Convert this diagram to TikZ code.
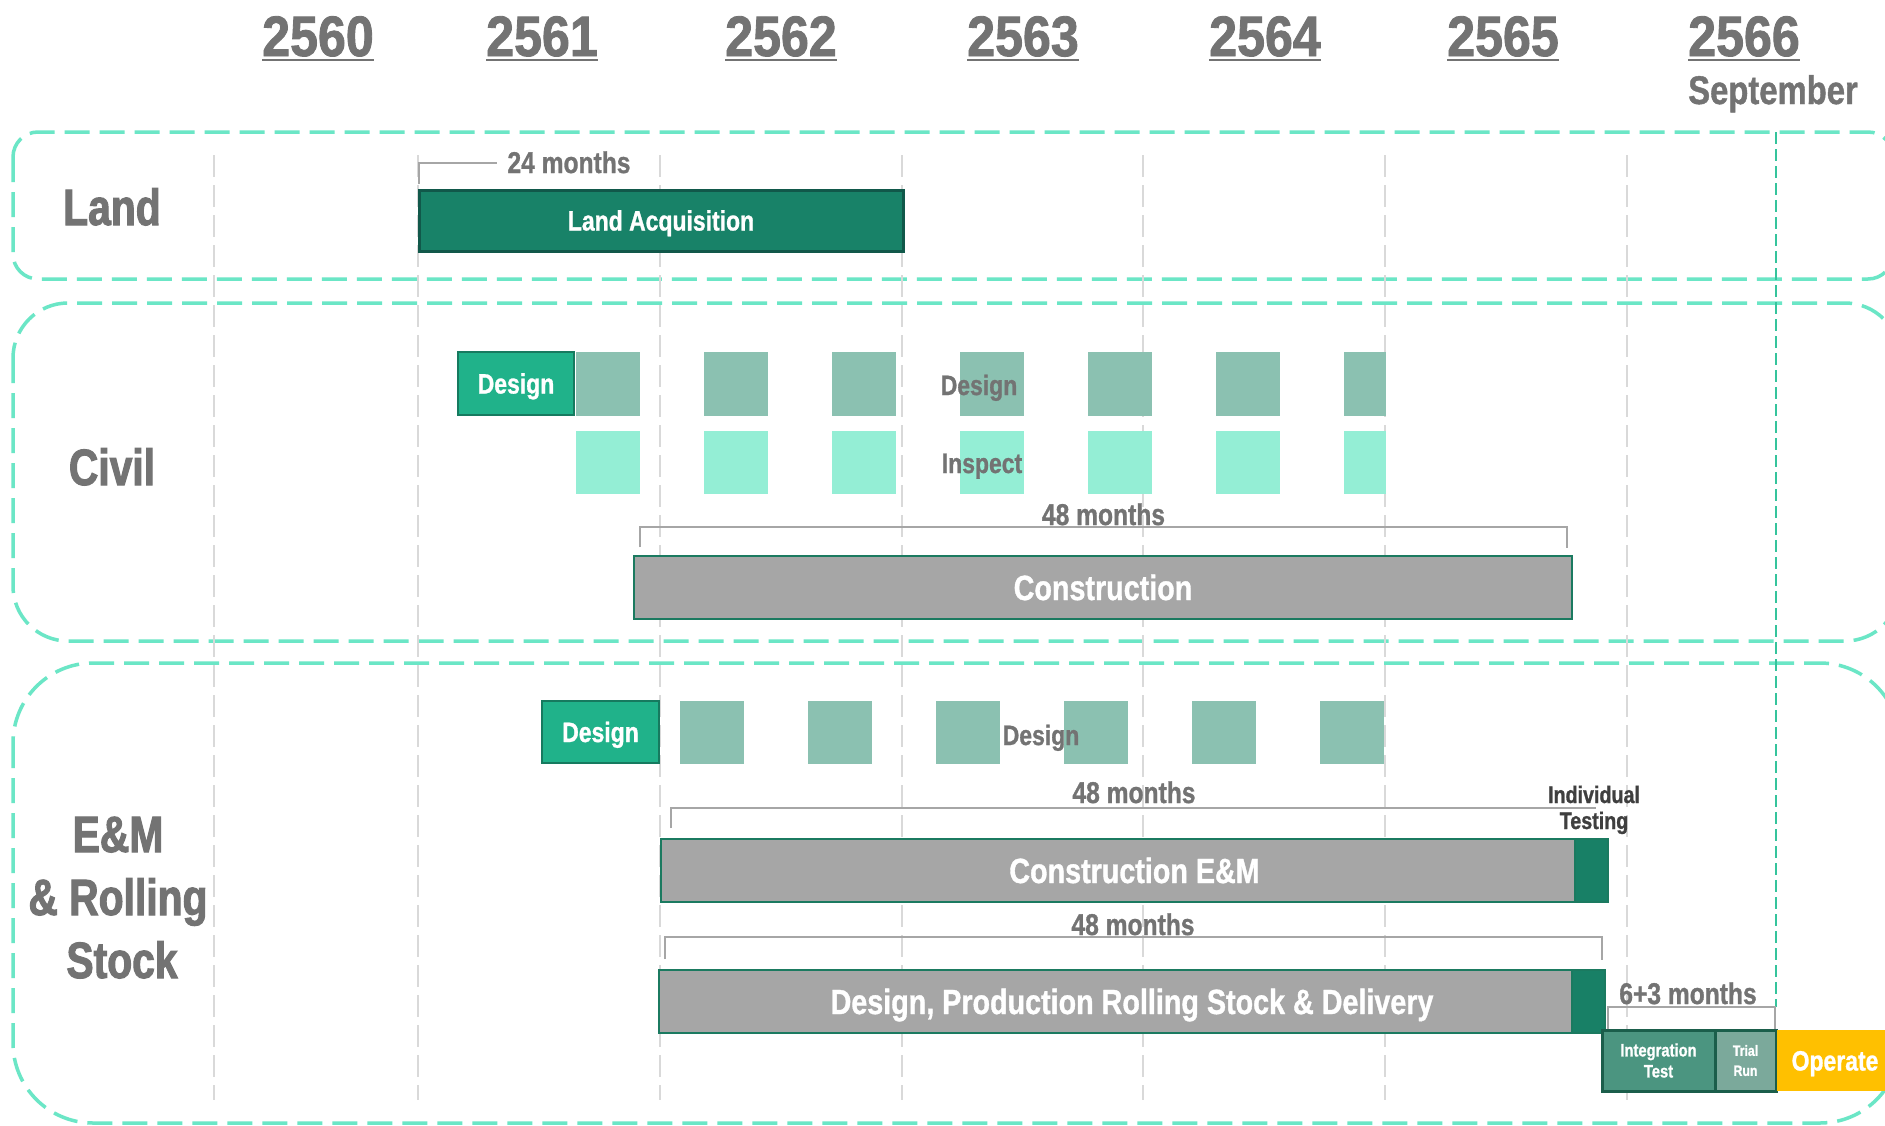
\documentclass[tikz,border=0pt]{standalone}
\usepackage{fontspec}
\newfontfamily\cf{Liberation Sans}[FakeStretch=0.82, FakeBold=1]
\newfontfamily\hf{Liberation Sans}[FakeStretch=0.8, FakeBold=2]
\newfontfamily\yf{Liberation Sans}[FakeStretch=0.88, FakeBold=1.5]
\newcommand\fsz[2]{\fontsize{#1}{#2}\selectfont}
\definecolor{textgray}{HTML}{737373}
\definecolor{darktext}{HTML}{3F3F3F}
\definecolor{mint}{HTML}{6BE6C6}
\definecolor{mintline}{HTML}{35C49C}
\definecolor{gridgray}{HTML}{D9D9D9}
\definecolor{landfill}{HTML}{188268}
\definecolor{landborder}{HTML}{11584A}
\definecolor{designfill}{HTML}{20B28A}
\definecolor{designborder}{HTML}{167A5F}
\definecolor{sqdesign}{HTML}{8BC1B1}
\definecolor{sqinspect}{HTML}{94EED5}
\definecolor{barfill}{HTML}{A6A6A6}
\definecolor{barborder}{HTML}{1B7A60}
\definecolor{darkblock}{HTML}{188066}
\definecolor{intfill}{HTML}{4B9580}
\definecolor{trialfill}{HTML}{7BA99B}
\definecolor{intborder}{HTML}{1B5E4B}
\definecolor{operatefill}{HTML}{FFC000}
\definecolor{brackgray}{HTML}{A6A6A6}
\begin{document}
\begin{tikzpicture}[x=1pt,y=-1pt,
  every node/.style={inner sep=0pt, outer sep=0pt},
  lbl/.style={anchor=base, text=textgray, font=\cf\bfseries\fsz{#1}{#1}},
  rowlbl/.style={anchor=base, text=textgray, font=\hf\bfseries\fsz{51}{51}},
  yearlbl/.style={anchor=base, text=textgray, font=\yf\bfseries\fsz{57}{57}},
  ul/.style={draw=textgray, line width=2.5pt},
  gridline/.style={draw=gridgray, line width=2.5pt, dash pattern=on 22pt off 8pt},
  phase/.style={draw=mint, line width=3.5pt, dash pattern=on 25pt off 10pt},
  brk/.style={draw=brackgray, line width=2pt},
  landbar/.style={draw=landborder, fill=landfill, line width=3pt, text=white, font=\cf\bfseries\fsz{28}{28}, text height=20pt, text depth=0pt},
  designbox/.style={draw=designborder, fill=designfill, line width=2.5pt, text=white, font=\cf\bfseries\fsz{28}{28}, text height=20pt, text depth=0pt},
  sqd/.style={fill=sqdesign},
  sqi/.style={fill=sqinspect},
  graybar/.style={draw=barborder, fill=barfill, line width=2.5pt, text=white, font=\cf\bfseries\fsz{35}{35}, text height=25pt, text depth=0pt},
  blockbar/.style={draw=barborder, fill=darkblock, line width=2.5pt},
  intbox/.style={draw=intborder, fill=intfill, line width=3pt, text=white, align=center, font=\cf\bfseries\fsz{18}{21}},
  trialbox/.style={draw=intborder, fill=trialfill, line width=3pt, text=white, align=center, font=\cf\bfseries\fsz{15}{20}},
  opbox/.style={fill=operatefill, text=white, font=\cf\bfseries\fsz{28}{28}, text height=20pt, text depth=0pt}
]
\useasboundingbox (0,0) rectangle (1885,1125);
\clip (0,0) rectangle (1885,1125);
\fill[white] (0,0) rectangle (1885,1125);

% phase boxes
\draw[phase, rounded corners=25pt] (13,132) rectangle (1893,279);
\draw[phase, rounded corners=55pt] (13,303) rectangle (1900,641);
\draw[phase, rounded corners=80pt] (13,663) rectangle (1900,1123);

% grid lines
\foreach \gx in {214,418,660,902,1143,1385,1627}
  \draw[gridline] (\gx,155) -- (\gx,1100);

% September marker line
\draw[draw=mintline, line width=1.5pt, dash pattern=on 12pt off 5pt] (1776,132) -- (1776,1007);

% years
\foreach \yr/\yx in {2560/318,2561/542,2562/781,2563/1023,2564/1265,2565/1503,2566/1744}{
  \node[yearlbl] (y\yr) at (\yx,56) {\yr};
  \draw[ul] ([yshift=-4pt]y\yr.base west) -- ([yshift=-4pt]y\yr.base east);
}
\node[lbl=40] (sept) at (1773,104) {September};

% row labels
\node[rowlbl] (land) at (112,225) {Land};
\node[rowlbl] (civil) at (112,485) {Civil};
\node[rowlbl] (em1) at (118,852) {E\&M};
\node[rowlbl] (em2) at (118,915) {\& Rolling};
\node[rowlbl] (em3) at (122,978) {Stock};

% Land
\node[landbar, minimum width=484pt, minimum height=61pt] (landacq) at (661,220.5) {Land Acquisition};
\coordinate (lb1) at (419,184);
\coordinate (lb2) at (497,163);
\draw[brk] (lb1) |- (lb2);
\node[lbl=30] (m24) at (569,173) {24 months};

% Civil design / inspect
\foreach \k in {0,...,5}{
  \node[sqd, minimum width=64pt, minimum height=64pt] (cd\k) at (608+128*\k,384) {};
  \node[sqi, minimum width=64pt, minimum height=63pt] (ci\k) at (608+128*\k,462.5) {};
}
\node[sqd, minimum width=42pt, minimum height=64pt] (cd6) at (1365,384) {};
\node[sqi, minimum width=42pt, minimum height=63pt] (ci6) at (1365,462.5) {};
\node[designbox, minimum width=116pt, minimum height=63pt] (cdes) at (516,383.5) {Design};
\node[lbl=28] (cdlbl) at (979,395) {Design};
\node[lbl=28] (cilbl) at (982,473) {Inspect};

% Civil construction
\coordinate (cb1) at (640,547);
\coordinate (cb2) at (1567,548);
\draw[brk] (cb1) -- (640,527) -- (1567,527) -- (cb2);
\node[lbl=30] (m48a) at (1103.5,525) {48 months};
\node[graybar, minimum width=938pt, minimum height=63pt] (constr) at (1103,587.5) {Construction};

% E&M design
\foreach \k in {0,...,5}{
  \node[sqd, minimum width=64pt, minimum height=63pt] (ed\k) at (712+128*\k,732.5) {};
}
\node[designbox, minimum width=117pt, minimum height=62pt] (edes) at (600.5,732) {Design};
\node[lbl=28] (edlbl) at (1041,745) {Design};

% Construction E&M
\coordinate (eb1) at (671,828);
\coordinate (eb2) at (1596,808);
\draw[brk] (eb1) |- (eb2);
\node[lbl=30] (m48b) at (1134,803) {48 months};
\node[lbl=24, text=darktext] (indiv1) at (1594,803) {Individual};
\node[lbl=24, text=darktext] (indiv2) at (1594,829) {Testing};
\node[graybar, minimum width=947pt, minimum height=63pt] (constrem) at (1134.5,870.5) {Construction E\&M};
\node[blockbar, minimum width=33pt, minimum height=63pt] (indivblk) at (1591.5,870.5) {};

% Rolling stock
\coordinate (rb1) at (665,959);
\coordinate (rb2) at (1602,960);
\draw[brk] (rb1) -- (665,937) -- (1602,937) -- (rb2);
\node[lbl=30] (m48c) at (1133,935) {48 months};
\node[graybar, minimum width=946pt, minimum height=63pt] (rolling) at (1132,1001.5) {Design, Production Rolling Stock \& Delivery};
\node[blockbar, minimum width=33pt, minimum height=63pt] (rollblk) at (1588.5,1001.5) {};

% Testing and operate
\node[intbox, minimum width=113pt, minimum height=61pt] (integ) at (1658.5,1060.5) {Integration\\Test};
\node[trialbox, minimum width=61pt, minimum height=61pt] (trial) at (1745.5,1060.5) {Trial\\Run};
\node[opbox, minimum width=116pt, minimum height=61pt] (operate) at (1835,1060.5) {Operate};
\coordinate (tb1) at (1608,1029);
\coordinate (tb2) at (1775,1029);
\draw[brk] (tb1) -- (1608,1007) -- (1775,1007) -- (tb2);
\node[lbl=30] (m63) at (1688,1004) {6+3 months};
\end{tikzpicture}
\end{document}
